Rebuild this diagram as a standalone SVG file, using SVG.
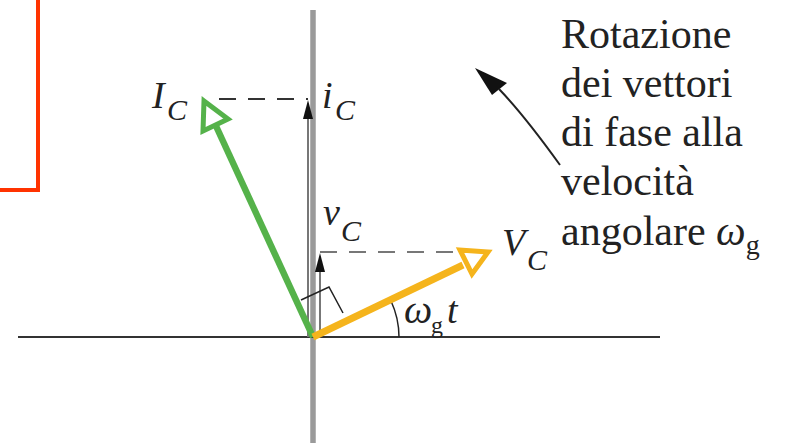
<svg xmlns="http://www.w3.org/2000/svg" width="790" height="443" viewBox="0 0 790 443">
<style>
.lbl{font-family:"Liberation Serif","Times New Roman",serif;font-style:italic;fill:#222}
.txt{font-family:"Liberation Serif","Times New Roman",serif;font-size:42px;fill:#222}
.dash{fill:none;stroke-width:2;stroke-dasharray:17 12}
</style>
<rect width="790" height="443" fill="#ffffff"/>
<path d="M0,190 H38 V0" fill="none" stroke="#ff3300" stroke-width="4"/>
<g id="axes">
<line x1="313" y1="10" x2="313" y2="443" stroke="#9a9a9a" stroke-width="5.5"/>
<line x1="18" y1="337" x2="660" y2="337" stroke="#333" stroke-width="2"/>
</g>
<g id="connectors">
<line class="dash" x1="219" y1="99" x2="308" y2="99" stroke="#333"/>
<line class="dash" x1="320" y1="252" x2="472" y2="252" stroke="#777"/>
<line x1="308" y1="337" x2="308" y2="116" stroke="#777" stroke-width="2"/>
<polygon points="308,100 303,119 313,119" fill="#111"/>
<line x1="320" y1="337" x2="320" y2="270" stroke="#777" stroke-width="2"/>
<polygon points="320,253 315,272 325,272" fill="#111"/>
<polyline points="301,300 329,287 343,313" fill="none" stroke="#222" stroke-width="1.5"/>
<path d="M399,337 A86,86 0 0 0 391,301" fill="none" stroke="#222" stroke-width="1.5"/>
<path d="M560,165 Q524,115 499,89" fill="none" stroke="#222" stroke-width="2"/>
<polygon points="475,68 507,83 492,95" fill="#111"/>
</g>
<g id="IC">
<line x1="313" y1="337" x2="216" y2="126" stroke="#55b24a" stroke-width="6.5"/>
<polygon points="204,101 228,119 203,131" fill="#fff" stroke="#55b24a" stroke-width="5" stroke-linejoin="miter"/>
<text class="lbl" x="152" y="108" font-size="38">I</text>
<text class="lbl" x="167" y="120" font-size="30">C</text>
</g>
<g id="ic">
<text class="lbl" x="322" y="108" font-size="38">i</text>
<text class="lbl" x="335" y="120" font-size="30">C</text>
</g>
<g id="VC">
<line x1="313" y1="337" x2="463" y2="265" stroke="#f5b41c" stroke-width="7"/>
<polygon points="488,252 460,250 472,274" fill="#fff" stroke="#f5b41c" stroke-width="5"/>
<text class="lbl" x="502" y="255" font-size="38">V</text>
<text class="lbl" x="527" y="270" font-size="30">C</text>
</g>
<g id="vc">
<text class="lbl" x="323" y="225" font-size="38">v</text>
<text class="lbl" x="341" y="241" font-size="30">C</text>
</g>
<g id="angle">
<text class="lbl" x="404" y="323" font-size="40">ω</text>
<text x="431" y="333" font-family="Liberation Serif, serif" font-size="24" fill="#222">g</text>
<text class="lbl" x="447" y="323" font-size="38">t</text>
</g>
<g id="note">
<text class="txt" x="561" y="48">Rotazione</text>
<text class="txt" x="561" y="97">dei vettori</text>
<text class="txt" x="561" y="146">di fase alla</text>
<text class="txt" x="561" y="195">velocità</text>
<text class="txt" x="561" y="245">angolare <tspan font-style="italic">ω</tspan><tspan font-size="28" dy="9">g</tspan></text>
</g>
</svg>
